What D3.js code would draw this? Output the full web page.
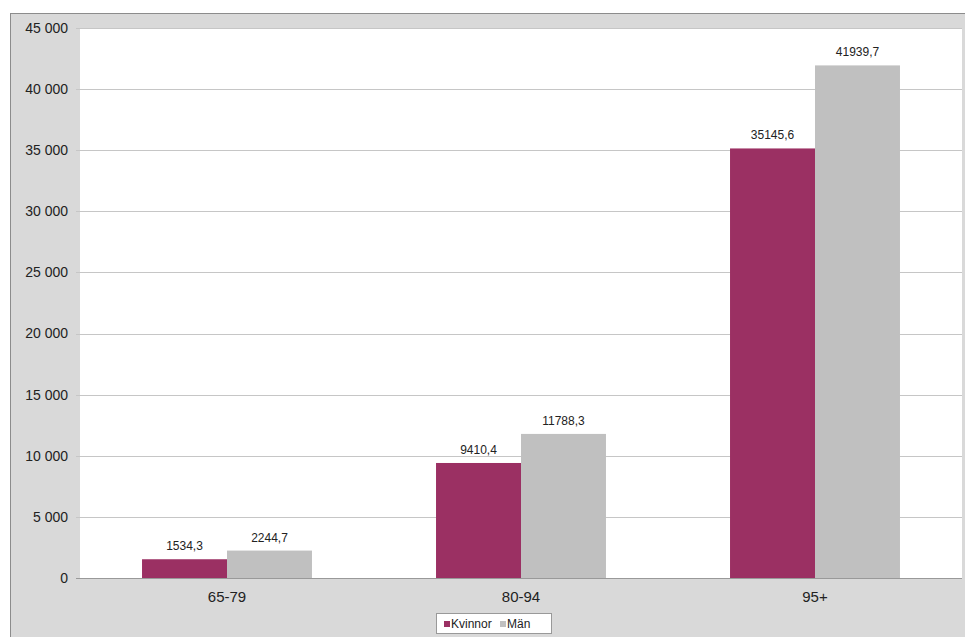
<!DOCTYPE html>
<html>
<head>
<meta charset="utf-8">
<script src="https://cdn.jsdelivr.net/npm/d3@7"></script>
<style>
  body { margin: 0; background: #fff; }
  text { font-family: "Liberation Sans", Arial, sans-serif; }
</style>
</head>
<body>
<svg id="chart" width="965" height="637"></svg>
<script>
var categories = ['65-79', '80-94', '95+'];
var series = ['Kvinnor', 'Män'];
var kvinnor = [1534.3, 9410.4, 35145.6];
var man = [2244.7, 11788.3, 41939.7];
var yTicks = [0, 5000, 10000, 15000, 20000, 25000, 30000, 35000, 40000, 45000];
var colors = ['#9b3063', '#c0c0c0'];

var svg = d3.select('#chart');
var m = {left: 80, right: 3, top: 28, bottom: 59};
var W = 965, H = 637;

// outer chart frame
svg.append('rect')
    .attr('x', 10.5).attr('y', 13.5)
    .attr('width', W - 10).attr('height', H - 13)
    .attr('fill', '#d9d9d9')
    .attr('stroke', '#8c8c8c');

var x = d3.scaleBand().domain(categories).range([m.left, W - m.right]);
var xs = d3.scaleBand().domain(series).range([0, x.bandwidth()]).paddingOuter(0.73).paddingInner(0);
var y = d3.scaleLinear().domain([0, 45000]).range([H - m.bottom, m.top]);

svg.append('rect')
    .attr('x', m.left).attr('y', m.top)
    .attr('width', W - m.right - m.left).attr('height', H - m.bottom - m.top)
    .attr('fill', '#fff');

var fmt = function (v) { return d3.format(',')(v).replace(/,/g, ' '); };

svg.append('g').selectAll('line').data(yTicks).enter().append('line')
    .attr('x1', m.left - 4).attr('x2', W - m.right)
    .attr('y1', function (d) { return Math.round(y(d)) + 0.5; })
    .attr('y2', function (d) { return Math.round(y(d)) + 0.5; })
    .attr('stroke', function (d) { return d === 0 ? '#999' : '#c6c6c6'; });

svg.append('g').selectAll('text').data(yTicks).enter().append('text')
    .attr('x', m.left - 12).attr('y', function (d) { return y(d); })
    .attr('dy', '0.35em').attr('text-anchor', 'end')
    .attr('font-size', 14).attr('fill', '#222')
    .text(fmt);

var rows = categories.map(function (c, i) {
    return {cat: c, vals: [kvinnor[i], man[i]]};
});

var g = svg.append('g').selectAll('g').data(rows).enter().append('g')
    .attr('transform', function (d) { return 'translate(' + x(d.cat) + ',0)'; });

g.selectAll('rect').data(function (d) { return d.vals; }).enter().append('rect')
    .attr('x', function (d, i) { return xs(series[i]); })
    .attr('width', xs.bandwidth())
    .attr('y', function (d) { return y(d); })
    .attr('height', function (d) { return y(0) - y(d); })
    .attr('fill', function (d, i) { return colors[i]; });

g.selectAll('text').data(function (d) { return d.vals; }).enter().append('text')
    .attr('x', function (d, i) { return xs(series[i]) + xs.bandwidth() / 2; })
    .attr('y', function (d) { return y(d) - 9; })
    .attr('text-anchor', 'middle').attr('font-size', 12).attr('fill', '#222')
    .text(function (d) { return String(d).replace('.', ','); });

svg.append('g').selectAll('text').data(categories).enter().append('text')
    .attr('x', function (d) { return x(d) + x.bandwidth() / 2; })
    .attr('y', H - m.bottom + 24)
    .attr('text-anchor', 'middle').attr('font-size', 15).attr('fill', '#222')
    .text(function (d) { return d; });

// legend
var lg = svg.append('g').attr('transform', 'translate(436,613)');
lg.append('rect').attr('x', 0.5).attr('y', 0.5).attr('width', 115).attr('height', 20)
    .attr('fill', '#fff').attr('stroke', '#999');
var lx = [8, 64];
series.forEach(function (s, i) {
    lg.append('rect').attr('x', lx[i]).attr('y', 8).attr('width', 6).attr('height', 6)
        .attr('fill', colors[i]);
    lg.append('text').attr('x', lx[i] + 7).attr('y', 15)
        .attr('font-size', 12).attr('fill', '#222').text(s);
});
</script>
</body>
</html>
